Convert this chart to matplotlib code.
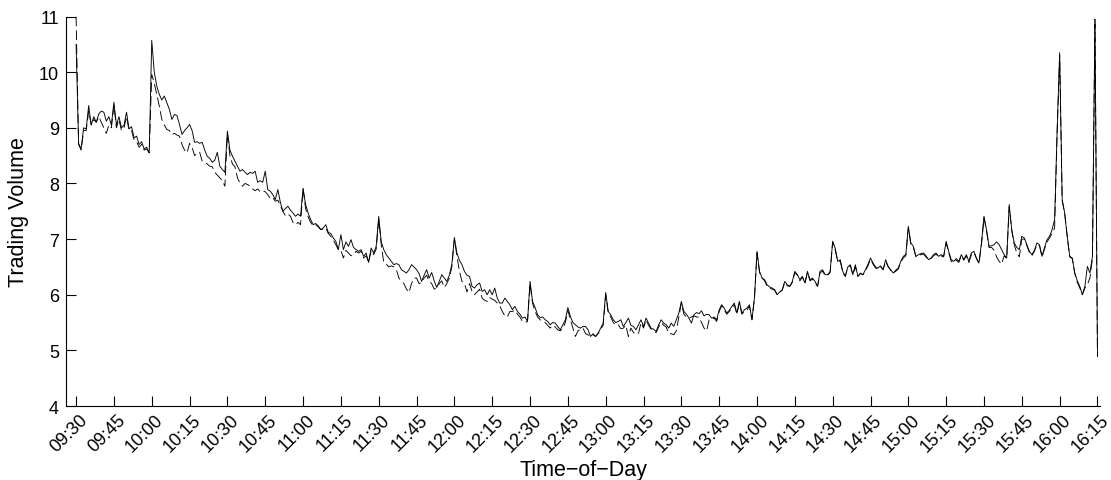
import numpy as np
import matplotlib
matplotlib.use("Agg")
import matplotlib.pyplot as plt
from matplotlib.transforms import ScaledTranslation

# Intraday trading volume, one value per minute from 09:30 to 16:15
volume_solid = [
    10.5, 8.72, 8.62, 9.0, 8.98, 9.4, 9.05, 9.2, 9.1, 9.25, 9.3, 9.28, 9.12, 9.2, 9.05,
    9.46, 9.05, 9.2, 9.0, 9.05, 9.28, 8.98, 9.02, 8.82, 8.85, 8.7, 8.75, 8.62, 8.65, 8.55,
    10.57, 10.0, 9.75, 9.6, 9.5, 9.57, 9.45, 9.33, 9.15, 9.24, 9.22, 9.06, 8.88, 8.95, 9.0,
    9.06, 8.95, 8.74, 8.75, 8.72, 8.74, 8.6, 8.49, 8.45, 8.38, 8.42, 8.56, 8.31, 8.25, 8.2,
    8.94, 8.6, 8.49, 8.4, 8.31, 8.22, 8.25, 8.2, 8.16, 8.2, 8.18, 8.22, 8.02, 8.05, 8.02,
    8.22, 7.89, 7.86, 7.8, 7.71, 7.89, 7.66, 7.5, 7.55, 7.59, 7.52, 7.47, 7.41, 7.45, 7.41,
    7.91, 7.62, 7.47, 7.35, 7.26, 7.28, 7.24, 7.17, 7.2, 7.26, 7.12, 7.1, 7.02, 6.96, 6.81,
    7.08, 6.81, 6.95, 6.87, 6.99, 6.85, 6.81, 6.78, 6.81, 6.69, 6.75, 6.58, 6.84, 6.75, 6.87,
    7.41, 6.95, 6.81, 6.72, 6.66, 6.6, 6.54, 6.56, 6.54, 6.45, 6.42, 6.39, 6.45, 6.54, 6.5,
    6.45, 6.38, 6.24, 6.35, 6.45, 6.3, 6.4, 6.25, 6.13, 6.24, 6.36, 6.3, 6.24, 6.35, 6.55,
    7.03, 6.75, 6.62, 6.54, 6.42, 6.35, 6.33, 6.15, 6.12, 6.18, 6.21, 6.06, 6.09, 6.0, 6.09,
    6.0, 6.12, 5.94, 5.85, 5.85, 5.94, 5.88, 5.82, 5.73, 5.79, 5.7, 5.65, 5.58, 5.6, 5.52,
    6.24, 5.88, 5.77, 5.64, 5.59, 5.6, 5.55, 5.52, 5.46, 5.5, 5.49, 5.43, 5.37, 5.46, 5.55,
    5.77, 5.61, 5.5, 5.46, 5.42, 5.4, 5.43, 5.43, 5.37, 5.25, 5.3, 5.25, 5.31, 5.4, 5.49,
    6.04, 5.7, 5.64, 5.55, 5.5, 5.52, 5.55, 5.43, 5.5, 5.58, 5.45, 5.43, 5.37, 5.46, 5.55,
    5.43, 5.58, 5.49, 5.4, 5.38, 5.34, 5.46, 5.55, 5.49, 5.46, 5.4, 5.49, 5.43, 5.55, 5.67,
    5.88, 5.7, 5.65, 5.58, 5.49, 5.64, 5.68, 5.66, 5.71, 5.62, 5.65, 5.64, 5.58, 5.6, 5.55,
    5.73, 5.82, 5.76, 5.67, 5.72, 5.79, 5.85, 5.67, 5.88, 5.67, 5.73, 5.76, 5.82, 5.55, 5.95,
    6.78, 6.42, 6.3, 6.27, 6.18, 6.14, 6.12, 6.09, 6.0, 6.05, 6.09, 6.24, 6.18, 6.15, 6.24,
    6.42, 6.36, 6.27, 6.33, 6.21, 6.42, 6.27, 6.3, 6.24, 6.15, 6.42, 6.45, 6.36, 6.36, 6.42,
    6.96, 6.84, 6.6, 6.63, 6.42, 6.33, 6.5, 6.54, 6.36, 6.54, 6.33, 6.39, 6.36, 6.45, 6.55,
    6.66, 6.57, 6.5, 6.48, 6.52, 6.45, 6.63, 6.51, 6.45, 6.39, 6.44, 6.48, 6.6, 6.69, 6.72,
    7.23, 6.93, 6.87, 6.69, 6.72, 6.74, 6.75, 6.7, 6.63, 6.66, 6.72, 6.75, 6.69, 6.72, 6.69,
    6.96, 6.78, 6.63, 6.6, 6.65, 6.6, 6.72, 6.63, 6.72, 6.6, 6.75, 6.78, 6.66, 6.57, 6.93,
    7.41, 7.17, 6.87, 6.88, 6.9, 6.95, 6.9, 6.81, 6.72, 6.66, 7.62, 7.17, 6.93, 6.85, 6.81,
    7.05, 7.02, 6.9, 6.78, 6.72, 6.8, 6.93, 6.9, 6.69, 6.85, 6.99, 7.05, 7.17, 7.35, 8.95,
    10.35, 7.71, 7.47, 7.05, 6.69, 6.66, 6.39, 6.25, 6.15, 6.0, 6.15, 6.51, 6.39, 6.69, 10.95, 4.89,
]

volume_dashed = [
    11.0, 8.7, 8.6, 8.95, 8.95, 9.3, 9.05, 9.15, 9.1, 9.2, 9.1, 9.0, 8.9, 9.05, 9.0,
    9.4, 9.0, 9.15, 8.95, 9.0, 9.2, 8.95, 8.95, 8.78, 8.75, 8.65, 8.7, 8.6, 8.62, 8.55,
    9.96, 9.8, 9.6, 9.39, 9.15, 9.05, 8.97, 8.95, 8.88, 8.9, 8.87, 8.85, 8.7, 8.6, 8.55,
    8.72, 8.65, 8.5, 8.55, 8.56, 8.4, 8.38, 8.35, 8.31, 8.3, 8.2, 8.15, 8.1, 8.05, 7.95,
    8.9, 8.5, 8.35, 8.3, 8.1, 8.0, 7.95, 8.0, 7.98, 7.95, 7.9, 7.87, 7.9, 7.85, 7.87,
    7.85, 7.8, 7.73, 7.75, 7.68, 7.7, 7.6, 7.5, 7.42, 7.45, 7.41, 7.3, 7.26, 7.3, 7.26,
    7.91, 7.55, 7.4, 7.3, 7.24, 7.26, 7.22, 7.17, 7.18, 7.2, 7.1, 7.05, 6.98, 6.9, 6.81,
    6.8, 6.66, 6.8, 6.75, 6.7, 6.72, 6.78, 6.75, 6.78, 6.66, 6.7, 6.58, 6.8, 6.72, 6.82,
    7.35, 6.9, 6.58, 6.55, 6.5, 6.52, 6.5, 6.45, 6.3, 6.24, 6.2, 6.1, 6.04, 6.2, 6.3,
    6.3, 6.2, 6.22, 6.3, 6.35, 6.24, 6.2, 6.1, 6.12, 6.2, 6.25, 6.13, 6.2, 6.3, 6.5,
    7.0, 6.7, 6.42, 6.24, 6.2, 6.05, 6.2, 6.06, 6.0, 6.05, 6.1, 5.94, 5.9, 5.88, 5.95,
    5.92, 5.9, 5.85, 5.8, 5.7, 5.62, 5.6, 5.7, 5.7, 5.72, 5.65, 5.6, 5.52, 5.5, 5.52,
    6.2, 5.85, 5.7, 5.6, 5.55, 5.52, 5.5, 5.45, 5.4, 5.45, 5.42, 5.37, 5.35, 5.4, 5.5,
    5.72, 5.55, 5.4, 5.25, 5.35, 5.38, 5.4, 5.3, 5.28, 5.25, 5.28, 5.25, 5.3, 5.38, 5.45,
    6.0, 5.68, 5.6, 5.5, 5.45, 5.46, 5.39, 5.4, 5.45, 5.25, 5.4, 5.32, 5.3, 5.3, 5.5,
    5.4, 5.55, 5.45, 5.38, 5.35, 5.32, 5.42, 5.5, 5.45, 5.42, 5.3, 5.3, 5.28, 5.35, 5.6,
    5.85, 5.65, 5.6, 5.58, 5.6, 5.62, 5.6, 5.6, 5.5, 5.4, 5.35, 5.55, 5.55, 5.58, 5.52,
    5.7, 5.8, 5.73, 5.65, 5.7, 5.75, 5.82, 5.65, 5.85, 5.65, 5.7, 5.72, 5.8, 5.55, 5.95,
    6.75, 6.4, 6.3, 6.25, 6.15, 6.12, 6.1, 6.08, 6.0, 6.05, 6.08, 6.22, 6.16, 6.15, 6.22,
    6.4, 6.35, 6.25, 6.32, 6.2, 6.4, 6.25, 6.28, 6.22, 6.15, 6.4, 6.42, 6.35, 6.35, 6.4,
    6.95, 6.8, 6.6, 6.6, 6.4, 6.33, 6.5, 6.52, 6.36, 6.5, 6.33, 6.38, 6.36, 6.43, 6.52,
    6.64, 6.55, 6.48, 6.46, 6.5, 6.45, 6.6, 6.5, 6.44, 6.39, 6.42, 6.46, 6.58, 6.66, 6.7,
    7.2, 6.9, 6.85, 6.68, 6.7, 6.72, 6.73, 6.68, 6.62, 6.65, 6.7, 6.73, 6.68, 6.7, 6.68,
    6.93, 6.76, 6.6, 6.58, 6.62, 6.58, 6.7, 6.62, 6.7, 6.58, 6.72, 6.76, 6.65, 6.56, 6.9,
    7.38, 7.15, 6.85, 6.85, 6.8, 6.68, 6.6, 6.55, 6.7, 6.65, 7.58, 7.15, 6.9, 6.75, 6.68,
    7.0, 7.0, 6.88, 6.76, 6.7, 6.78, 6.9, 6.88, 6.68, 6.82, 6.95, 7.02, 7.1, 7.2, 8.9,
    10.3, 7.7, 7.45, 7.05, 6.68, 6.65, 6.38, 6.22, 6.12, 6.0, 6.12, 6.18, 6.3, 6.65, 10.95, 4.89,
]

time_labels = [
    "09:30", "09:45", "10:00", "10:15", "10:30", "10:45", "11:00", "11:15",
    "11:30", "11:45", "12:00", "12:15", "12:30", "12:45", "13:00", "13:15",
    "13:30", "13:45", "14:00", "14:15", "14:30", "14:45", "15:00", "15:15",
    "15:30", "15:45", "16:00", "16:15",
]
y_ticks = [4, 5, 6, 7, 8, 9, 10, 11]

plt.rcParams["font.family"] = ["Liberation Sans", "DejaVu Sans"]
plt.rcParams["lines.scale_dashes"] = False

minutes = np.arange(len(volume_solid))
tick_minutes = np.arange(len(time_labels)) * 15

fig = plt.figure(figsize=(11.11, 4.81), dpi=100)
ax = fig.add_axes([0.0594, 0.1538, 0.9307, 0.8098])

ax.plot(minutes, volume_dashed, color="black", linewidth=0.65,
        linestyle=(0, (7.0, 3.0)))
ax.plot(minutes, volume_solid, color="black", linewidth=0.65, linestyle="-")

ax.set_xlim(-4, 406)
ax.set_ylim(4, 11)
ax.set_yticks(y_ticks)
ax.set_yticklabels([str(v) for v in y_ticks])
ax.set_xticks(tick_minutes)
ax.set_xticklabels(time_labels, rotation=45, ha="right", va="center",
                   rotation_mode="anchor")

for side in ("top", "right"):
    ax.spines[side].set_visible(False)
for side in ("left", "bottom"):
    ax.spines[side].set_linewidth(0.8)

ax.tick_params(axis="both", direction="in", length=7.5, width=0.8,
               labelsize=13)
ax.tick_params(axis="y", pad=5)
ax.tick_params(axis="x", pad=0)

shift = ScaledTranslation(0.09, -0.11, fig.dpi_scale_trans)
for lab in ax.get_xticklabels():
    lab.set_transform(lab.get_transform() + shift)

ax.set_xlabel("Time\u2212of\u2212Day", fontsize=15.5, labelpad=3)
ax.set_ylabel("Trading Volume", fontsize=15.5, labelpad=7)

fig.savefig("out.png", dpi=100)
